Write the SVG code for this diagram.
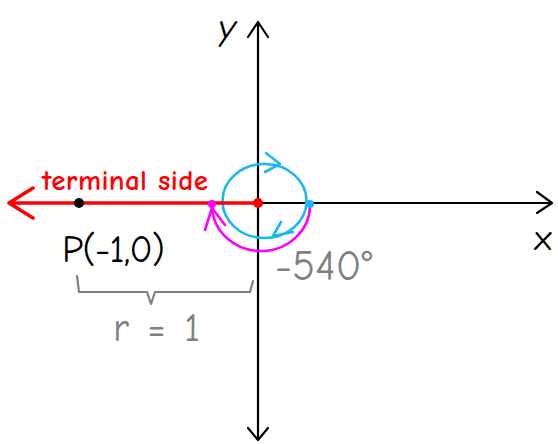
<svg xmlns="http://www.w3.org/2000/svg" width="558" height="444" viewBox="0 0 558 444">
<style>
.ax{stroke:#000;stroke-width:2.2;fill:none;stroke-linecap:round;stroke-linejoin:round}
.red{stroke:#ff0000;stroke-width:3.5;fill:none;stroke-linecap:round;stroke-linejoin:round}
.cy{stroke:#1ab8f0;stroke-width:2.6;fill:none;stroke-linecap:round;stroke-linejoin:round}
.mg{stroke:#ff00ff;stroke-width:2.6;fill:none;stroke-linecap:round;stroke-linejoin:round}
.gr{stroke:#808080;stroke-width:2.2;fill:none;stroke-linecap:round;stroke-linejoin:round}
text{font-family:"Comic Neue","Liberation Sans",sans-serif}
</style>
<rect width="558" height="444" fill="#fff"/>
<g id="axes">
<path class="ax" d="M258 22 L258 440 M248 37 L258 22 L268 37 M248 428 L258 440 L268 428"/>
<path class="ax" d="M258 203 L552 203 M537 192 L552 203 L537 213"/>
<text x="227" y="40" font-size="38" font-style="italic" text-anchor="middle" fill="#000">y</text>
<text x="543" y="250" font-size="36" text-anchor="middle" fill="#000">x</text>
</g>
<g id="connectors">
<path class="cy" d="M265 164 A42 37 0 1 1 264 238 A42 37 0 0 1 265 164"/>
<path class="cy" d="M266 153 L280 164 L265 172"/>
<path class="cy" d="M281 222 L273 236 L293 232"/>
<path class="mg" d="M310 204 A49 46 0 0 1 212 206"/>
<path class="mg" d="M205 230 L212 208 L225 225"/>
</g>
<g id="terminal">
<path class="red" d="M9 203 L258 203 M33 188 L9 203 L33 218"/>
<text x="125" y="190" font-size="29" font-weight="bold" text-anchor="middle" fill="#ff0000" textLength="166">terminal side</text>
</g>
<g id="points">
<circle cx="258" cy="203" r="5" fill="#ff0000"/>
<circle cx="79" cy="203" r="5" fill="#000"/>
<circle cx="212" cy="204" r="4" fill="#ff00ff"/>
<circle cx="310" cy="204" r="4" fill="#1ab8f0"/>
</g>
<g id="labels">
<text x="62" y="262" font-size="38" fill="#000" textLength="103">P(-1,0)</text>
<text x="275" y="280" font-size="42" fill="#808080" textLength="97">-540°</text>
<path class="gr" d="M77 276 L79 292 L147 292 L151 304 L155 292 L250 292 L253 281"/>
<text x="113" y="341" font-size="40" fill="#808080" textLength="87">r = 1</text>
</g>
</svg>
